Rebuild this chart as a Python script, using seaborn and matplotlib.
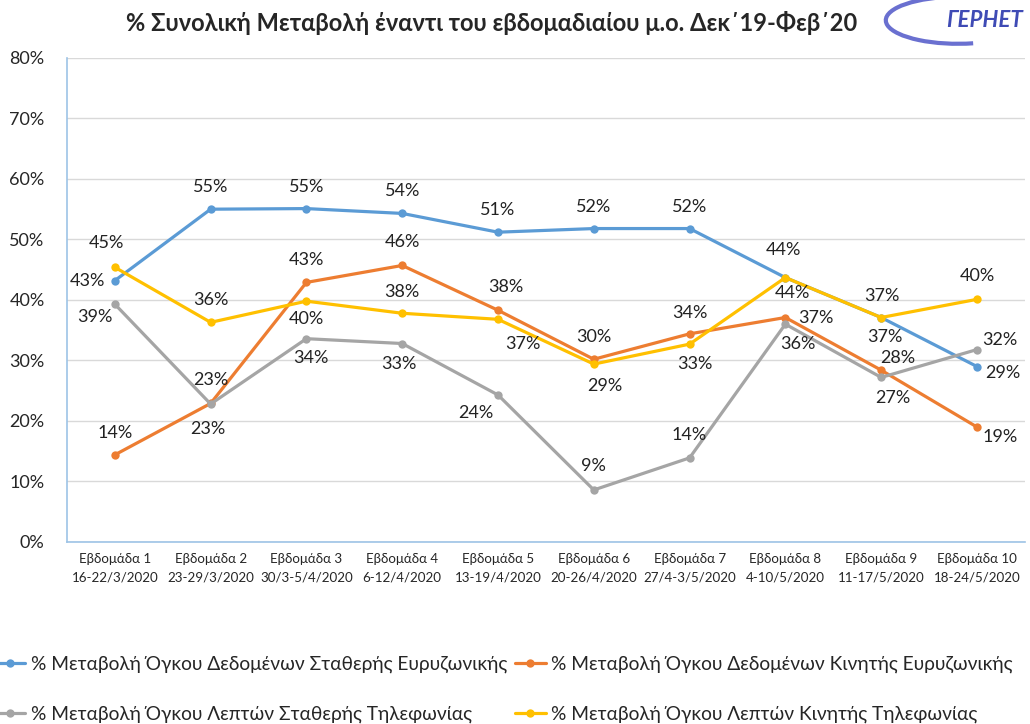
import matplotlib
matplotlib.use("Agg")
import matplotlib.pyplot as plt
from matplotlib.lines import Line2D
from matplotlib.patches import Arc
import seaborn as sns
import pandas as pd

weeks = ["Εβδομάδα 1\n16-22/3/2020", "Εβδομάδα 2\n23-29/3/2020", "Εβδομάδα 3\n30/3-5/4/2020",
         "Εβδομάδα 4\n6-12/4/2020", "Εβδομάδα 5\n13-19/4/2020", "Εβδομάδα 6\n20-26/4/2020",
         "Εβδομάδα 7\n27/4-3/5/2020", "Εβδομάδα 8\n4-10/5/2020", "Εβδομάδα 9\n11-17/5/2020",
         "Εβδομάδα 10\n18-24/5/2020"]

series_names = ["% Μεταβολή Όγκου Δεδομένων Σταθερής Ευρυζωνικής",
                "% Μεταβολή Όγκου Δεδομένων Κινητής Ευρυζωνικής",
                "% Μεταβολή Όγκου Λεπτών Σταθερής Τηλεφωνίας",
                "% Μεταβολή Όγκου Λεπτών Κινητής Τηλεφωνίας"]

fixed_data = [43.2, 55.0, 55.1, 54.3, 51.2, 51.8, 51.8, 43.7, 37.1, 29.0]
mobile_data = [14.4, 22.9, 42.9, 45.7, 38.3, 30.2, 34.4, 37.1, 28.4, 19.0]
fixed_voice = [39.3, 22.8, 33.6, 32.8, 24.3, 8.6, 13.9, 36.0, 27.2, 31.8]
mobile_voice = [45.4, 36.3, 39.8, 37.8, 36.8, 29.4, 32.7, 43.7, 37.1, 40.1]

colors = ["#5B9BD5", "#ED7D31", "#A5A5A5", "#FFC000"]

# label offsets in pixels (dx, dy) for each point of each series
offsets = [
    [(-27, 0), (0, 22), (0, 22), (0, 22), (0, 22), (0, 22), (0, 22), (-2, 28), (1, 22), (26, -6)],
    [(0, 22), (0, 23), (0, 22), (0, 23), (8, 23), (0, 22), (0, 21), (30, 0), (17, 12), (23, -10)],
    [(-20, -13), (-3, -25), (4, -19), (-3, -20), (-22, -18), (0, 24), (0, 23), (12, -20), (12, -21), (23, 10)],
    [(-8, 24), (0, 22), (0, -18), (0, 21), (25, -25), (11, -22), (5, -20), (7, -15), (4, -19), (0, 23)],
]

sns.set_style("white")
plt.rcParams["font.family"] = ["Lato", "Noto Sans", "DejaVu Sans"]

rows = []
for name, vals in zip(series_names, [fixed_data, mobile_data, fixed_voice, mobile_voice]):
    for i, v in enumerate(vals):
        rows.append({"week": i, "value": v, "series": name})
df = pd.DataFrame(rows)

fig = plt.figure(figsize=(10.3, 7.24), dpi=100)
ax = fig.add_axes([0.065, 0.2514, 0.93, 0.6686])

sns.lineplot(data=df, x="week", y="value", hue="series", hue_order=series_names,
             palette=colors, marker="o", markersize=6, markeredgewidth=0,
             linewidth=2.3, sort=False, legend=False, ax=ax)

for vals, offs in zip([fixed_data, mobile_data, fixed_voice, mobile_voice], offsets):
    for i, (v, (dx, dy)) in enumerate(zip(vals, offs)):
        ax.annotate(f"{round(v):d}%", (i, v), xytext=(dx, dy), textcoords="offset pixels",
                    ha="center", va="center", fontsize=13, color="#222222")

ax.set_xlim(-0.5, 9.5)
ax.set_ylim(0, 80)
ax.set_yticks(range(0, 81, 10))
ax.set_yticklabels([f"{t}%" for t in range(0, 81, 10)], fontsize=13)
ax.set_xticks(range(10))
ax.set_xticklabels(weeks, fontsize=9.6, linespacing=1.6)
ax.tick_params(axis="x", pad=8, length=0)
ax.tick_params(axis="y", pad=16, length=0)
ax.yaxis.grid(True, color="#D9D9D9", linewidth=1)
ax.set_xlabel("")
ax.set_ylabel("")
for s in ["top", "right"]:
    ax.spines[s].set_visible(False)
for s in ["left", "bottom"]:
    ax.spines[s].set_color("#9DC3E6")
    ax.spines[s].set_linewidth(1.2)

fig.text(0.477, 0.968, "% Συνολική Μεταβολή έναντι του εβδομαδιαίου μ.ο. Δεκ΄19-Φεβ΄20",
         ha="center", va="center", fontsize=17, fontweight="bold")

# logo
fig.text(0.956, 0.972, "ΓΕΡΗΕΤ", ha="center", va="center", fontsize=16, fontweight="bold",
         fontstyle="italic", color="#3F4BB5")
fig.patches.append(Arc((0.93, 0.972), 0.14, 0.065, theta1=115, theta2=295, color="#6A70D0",
                       linewidth=3, transform=fig.transFigure))

# legend handles ordered so rows read blue/orange then gray/yellow
order = [0, 2, 1, 3]
handles = [Line2D([0], [0], color=colors[k], linewidth=2.3, marker="o", markersize=6,
                  markeredgewidth=0) for k in order]
fig.legend(handles, [series_names[k] for k in order], loc="lower left",
           bbox_to_anchor=(-0.022, -0.022), ncol=2, frameon=False, fontsize=13.8,
           handlelength=1.6, handletextpad=0.3, columnspacing=0.4, labelspacing=1.7)

fig.savefig("out.png", dpi=100)
